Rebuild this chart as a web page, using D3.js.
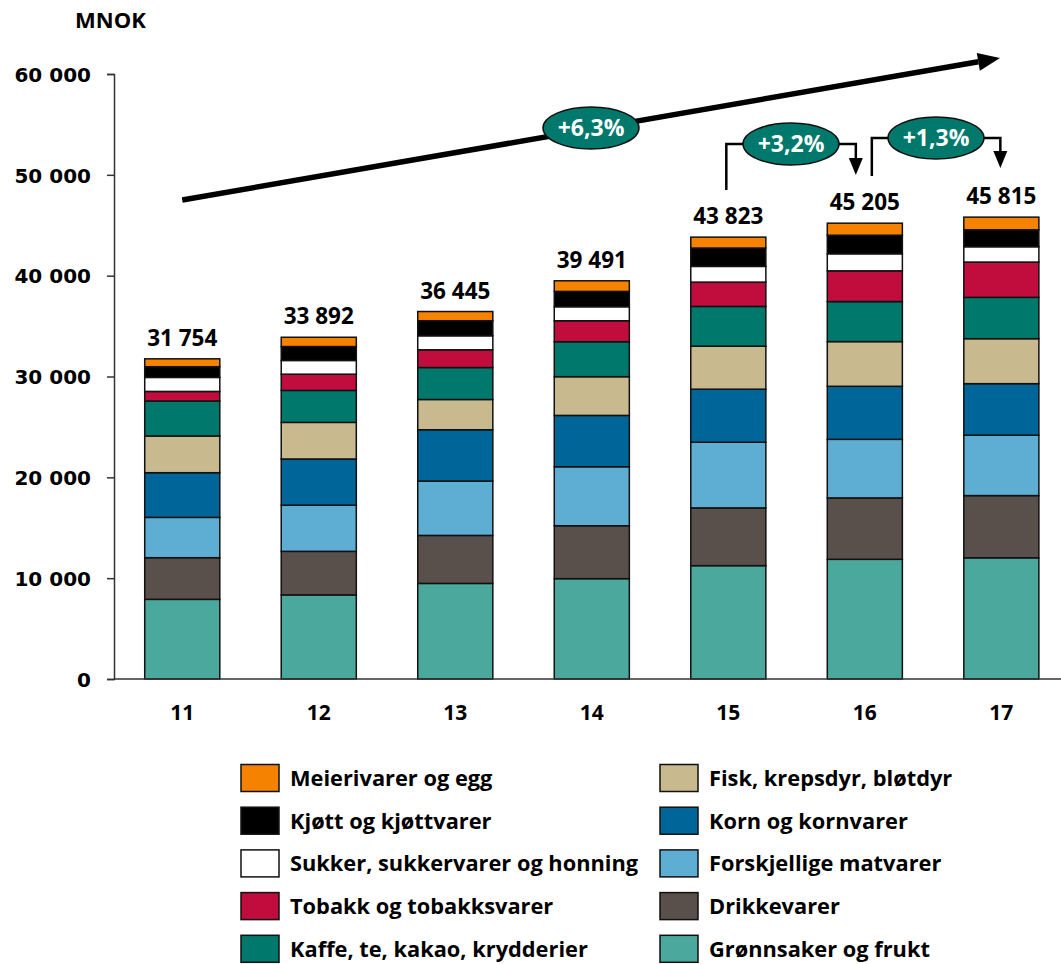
<!DOCTYPE html>
<html><head><meta charset="utf-8">
<script src="https://cdn.jsdelivr.net/npm/d3@7"></script>
<style>body{margin:0;background:#fff}svg{display:block}text{font-family:"Open Sans",Lato,sans-serif;font-weight:700}</style>
</head><body><svg id="c" width="1061" height="964"></svg>
<script>
const years = ["11","12","13","14","15","16","17"];
const totals = [31754, 33892, 36445, 39491, 43823, 45205, 45815];
// series, bottom to top
const seriesNames = ["Grønnsaker og frukt","Drikkevarer","Forskjellige matvarer","Korn og kornvarer","Fisk, krepsdyr, bløtdyr","Kaffe, te, kakao, krydderier","Tobakk og tobakksvarer","Sukker, sukkervarer og honning","Kjøtt og kjøttvarer","Meierivarer og egg"];
const gronnsaker = [7900, 8340, 9480, 9950, 11240, 11870, 12020];
const drikke     = [4130, 4320, 4760, 5250, 5730, 6090, 6170];
const forskj     = [4000, 4580, 5390, 5850, 6510, 5810, 5990];
const korn       = [4430, 4580, 5090, 5090, 5260, 5260, 5110];
const fisk       = [3640, 3630, 3000, 3840, 4270, 4430, 4460];
const kaffe      = [3470, 3170, 3170, 3470, 3940, 3970, 4100];
const tobakk     = [950, 1610, 1760, 2080, 2410, 3050, 3500];
const sukker     = [1390, 1360, 1390, 1390, 1560, 1690, 1520];
const kjott      = [1060, 1380, 1490, 1520, 1820, 1840, 1680];
const meieri     = [784, 922, 915, 1051, 1083, 1195, 1255];
const seriesValues = [gronnsaker, drikke, forskj, korn, fisk, kaffe, tobakk, sukker, kjott, meieri];
const colors = ["#4AA99C","#59504B","#5EADD3","#006699","#C8B98F","#00786C","#C00D3E","#FFFFFF","#000000","#F58200"];
const yTicks = [0, 10000, 20000, 30000, 40000, 50000, 60000];
const growthLabels = ["+6,3%","+3,2%","+1,3%"];

const svg = d3.select("#c");
const x = d3.scaleBand().domain(years).range([114, 1069.6]).paddingInner(0.45).paddingOuter(0.225);
const y = d3.scaleLinear().domain([0, 60000]).range([679, 74]);
const fmt = v => d3.format(",")(v).replace(/,/g, " ");

const rows = years.map((yr, i) => {
  const o = {year: yr};
  seriesNames.forEach((s, k) => o[s] = seriesValues[k][i]);
  return o;
});
const stack = d3.stack().keys(seriesNames)(rows);

svg.append("g").selectAll("g.s").data(stack).join("g").attr("fill", (d, i) => colors[i])
  .selectAll("rect").data(d => d).join("rect")
  .attr("x", d => x(d.data.year)).attr("width", x.bandwidth())
  .attr("y", d => y(d[1])).attr("height", d => y(d[0]) - y(d[1]))
  .attr("stroke", "#111").attr("stroke-width", 1.5);

const yAxis = svg.append("g").attr("transform", "translate(114,0)")
  .call(d3.axisLeft(y).tickValues(yTicks).tickSize(7).tickFormat(fmt));
yAxis.select(".domain").attr("stroke", "#333").attr("stroke-width", 1.5);
yAxis.selectAll(".tick line").attr("stroke", "#333").attr("stroke-width", 1.5);
yAxis.selectAll(".tick text").attr("x", -23).attr("dy", "0.36em").attr("fill", "#000")
  .style("font-family", "'DejaVu Sans',Verdana,sans-serif").style("font-weight", "700").style("font-size", "20px");

svg.append("line").attr("x1", 114).attr("x2", 1061).attr("y1", y(0)).attr("y2", y(0))
  .attr("stroke", "#333").attr("stroke-width", 1.5);

const xAxis = svg.append("g").attr("transform", `translate(0,${y(0)})`)
  .call(d3.axisBottom(x).tickSize(0).tickPadding(26));
xAxis.select(".domain").remove();
xAxis.selectAll(".tick text").attr("fill", "#000")
  .style("font-family", "'Open Sans',sans-serif").style("font-weight", "700").style("font-size", "21px");

svg.selectAll("text.tot").data(totals).join("text").attr("class", "tot")
  .attr("x", (d, i) => x(years[i]) + x.bandwidth() / 2).attr("y", d => y(d) - 13)
  .attr("text-anchor", "middle").attr("font-size", 22.5).text(fmt);

svg.append("text").attr("x", 75).attr("y", 28).attr("font-size", 22).text("MNOK");

const teal = "#00786C";
function ellipse(cx, cy, label) {
  svg.append("ellipse").attr("cx", cx).attr("cy", cy).attr("rx", 48).attr("ry", 21)
    .attr("fill", teal).attr("stroke", "#111").attr("stroke-width", 1.5);
  svg.append("text").attr("x", cx).attr("y", cy + 8).attr("text-anchor", "middle")
    .attr("fill", "#fff").attr("font-size", 23).text(label);
}
function downArrow(xx, tipY) {
  svg.append("path").attr("d", `M${xx - 7},${tipY - 17}L${xx + 7},${tipY - 17}L${xx},${tipY}Z`).attr("fill", "#000");
}
const c0 = x("11") + x.bandwidth() / 2;
const ax1 = c0, ay1 = 200, ax2 = 1000, ay2 = 58;
const ang = Math.atan2(ay2 - ay1, ax2 - ax1);
const hl = 22, hw = 9;
const bx = ax2 - hl * Math.cos(ang), by = ay2 - hl * Math.sin(ang);
svg.append("line").attr("x1", ax1).attr("y1", ay1).attr("x2", bx).attr("y2", by)
  .attr("stroke", "#000").attr("stroke-width", 5.5);
svg.append("path").attr("d", `M${ax2},${ay2}L${bx - hw * Math.sin(ang)},${by + hw * Math.cos(ang)}L${bx + hw * Math.sin(ang)},${by - hw * Math.cos(ang)}Z`).attr("fill", "#000");
ellipse(591, 128, growthLabels[0]);

const c15 = x("15") + x.bandwidth() / 2, c16 = x("16") + x.bandwidth() / 2, c17 = x("17") + x.bandwidth() / 2;
svg.append("path").attr("d", `M${c15 - 2},190V144H${c16 - 9}V160`).attr("fill", "none").attr("stroke", "#000").attr("stroke-width", 2.5);
downArrow(c16 - 9, 175);
ellipse(791, 144, growthLabels[1]);
svg.append("path").attr("d", `M${c16 + 7},176V138H${c17 - 1}V153`).attr("fill", "none").attr("stroke", "#000").attr("stroke-width", 2.5);
downArrow(c17 - 1, 168);
ellipse(936, 138, growthLabels[2]);

const legLeft = ["Meierivarer og egg","Kjøtt og kjøttvarer","Sukker, sukkervarer og honning","Tobakk og tobakksvarer","Kaffe, te, kakao, krydderier"];
const legRight = ["Fisk, krepsdyr, bløtdyr","Korn og kornvarer","Forskjellige matvarer","Drikkevarer","Grønnsaker og frukt"];
function legendCol(names, x0) {
  names.forEach((n, i) => {
    const cy = 778 + i * 42.7;
    const col = colors[seriesNames.indexOf(n)];
    svg.append("rect").attr("x", x0).attr("y", cy - 13.5).attr("width", 38).attr("height", 27)
      .attr("fill", col).attr("stroke", "#111").attr("stroke-width", 1.5);
    svg.append("text").attr("x", x0 + 49).attr("y", cy + 8).attr("font-size", 21.8).text(n);
  });
}
legendCol(legLeft, 241);
legendCol(legRight, 660);
</script></body></html>
